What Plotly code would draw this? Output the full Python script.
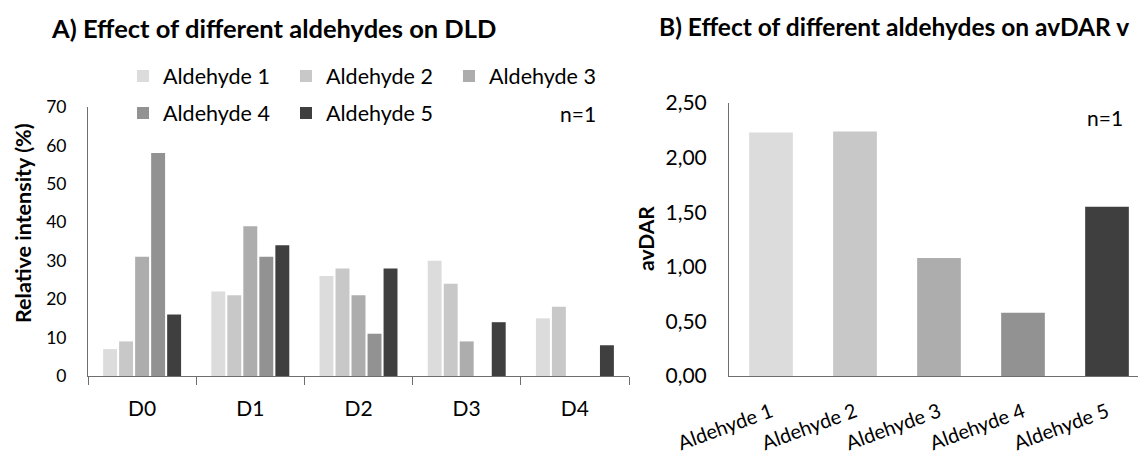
import plotly.graph_objects as go

# ---- data ----
dar_levels = ["D0", "D1", "D2", "D3", "D4"]
aldehydes = ["Aldehyde 1", "Aldehyde 2", "Aldehyde 3", "Aldehyde 4", "Aldehyde 5"]
aldehyde_1 = [7, 22, 26, 30, 15]
aldehyde_2 = [9, 21, 28, 24, 18]
aldehyde_3 = [31, 39, 21, 9, 0]
aldehyde_4 = [58, 31, 11, 0, 0]
aldehyde_5 = [16, 34, 28, 14, 8]
avdar = [2.23, 2.24, 1.08, 0.58, 1.55]
left_ticks = [0, 10, 20, 30, 40, 50, 60, 70]
right_ticks = [0, 0.5, 1.0, 1.5, 2.0, 2.5]
right_tick_text = ["0,00", "0,50", "1,00", "1,50", "2,00", "2,50"]

colors = ["#dcdcdc", "#c8c8c8", "#adadad", "#929292", "#3f3f3f"]
FONT = "Lato"
W, H = 1138, 457

fig = go.Figure()
series = [aldehyde_1, aldehyde_2, aldehyde_3, aldehyde_4, aldehyde_5]
for i, (name, vals) in enumerate(zip(aldehydes, series)):
    fig.add_trace(go.Bar(
        x=dar_levels, y=vals, name=name,
        marker=dict(color=colors[i], line=dict(width=0)),
        xaxis="x", yaxis="y",
        legend="legend" if i < 3 else "legend2",
    ))

fig.add_trace(go.Bar(
    x=aldehydes, y=avdar, width=0.52,
    marker=dict(color=colors, line=dict(width=0)),
    xaxis="x2", yaxis="y2", showlegend=False,
))

axis_col = "#6e6e6e"
fig.update_layout(
    width=W, height=H,
    margin=dict(l=0, r=0, t=0, b=0, autoexpand=False),
    paper_bgcolor="white", plot_bgcolor="white",
    barmode="group", bargap=0.26, bargroupgap=0.13,
    font=dict(family=FONT, color="#000000"),
    xaxis=dict(
        domain=[88 / W, 629 / W], anchor="y", automargin=False,
        showline=True, linecolor=axis_col, linewidth=1,
        ticks="outside", tickson="boundaries", ticklen=8, tickcolor=axis_col,
        tickfont=dict(size=21, family=FONT), ticklabelstandoff=14,
        showgrid=False, zeroline=False,
    ),
    yaxis=dict(
        domain=[(H - 376) / H, (H - 107) / H], anchor="x", automargin=False,
        range=[0, 70], tickvals=left_ticks,
        showline=True, linecolor=axis_col, linewidth=1,
        ticks="", tickfont=dict(size=17.5, family=FONT), ticklabelstandoff=17,
        showgrid=False, zeroline=False,
    ),
    xaxis2=dict(
        domain=[729 / W, 1.0], anchor="y2", automargin=False,
        range=[-0.5, -0.5 + 409 / 84],
        showline=True, linecolor=axis_col, linewidth=1,
        ticks="", tickangle=-20, ticklabelstandoff=16,
        tickfont=dict(size=20, family=FONT),
        showgrid=False, zeroline=False,
    ),
    yaxis2=dict(
        domain=[(H - 376) / H, (H - 103) / H], anchor="x2", automargin=False,
        range=[0, 2.5], tickvals=right_ticks, ticktext=right_tick_text,
        showline=True, linecolor=axis_col, linewidth=1,
        ticks="", tickfont=dict(size=21, family=FONT), ticklabelstandoff=17,
        showgrid=False, zeroline=False,
    ),
    legend=dict(
        orientation="h", x=123 / W, y=1 - 76 / H, xanchor="left", yanchor="middle",
        font=dict(size=21.5, family=FONT), entrywidth=118, entrywidthmode="pixels",
        bgcolor="rgba(0,0,0,0)", traceorder="normal",
    ),
    legend2=dict(
        orientation="h", x=123 / W, y=1 - 113 / H, xanchor="left", yanchor="middle",
        font=dict(size=21.5, family=FONT), entrywidth=118, entrywidthmode="pixels",
        bgcolor="rgba(0,0,0,0)", traceorder="normal",
    ),
    annotations=[
        dict(text="<b>A) Effect of different aldehydes on DLD</b>", x=49 / W, y=1 - 28 / H,
             xref="paper", yref="paper", xanchor="left", yanchor="middle",
             showarrow=False, font=dict(size=25.5, family=FONT)),
        dict(text="<b>B) Effect of different aldehydes on avDAR v</b>", x=657 / W, y=1 - 26 / H,
             xref="paper", yref="paper", xanchor="left", yanchor="middle",
             showarrow=False, font=dict(size=24.5, family=FONT)),
        dict(text="<b>Relative intensity (%)</b>", x=23 / W, y=1 - 223 / H, textangle=-90,
             xref="paper", yref="paper", xanchor="center", yanchor="middle",
             showarrow=False, font=dict(size=21.5, family=FONT)),
        dict(text="<b>avDAR</b>", x=645 / W, y=1 - 239 / H, textangle=-90,
             xref="paper", yref="paper", xanchor="center", yanchor="middle",
             showarrow=False, font=dict(size=21, family=FONT)),
        dict(text="n=1", x=578 / W, y=1 - 113 / H, xref="paper", yref="paper",
             xanchor="center", yanchor="middle", showarrow=False, font=dict(size=21, family=FONT)),
        dict(text="n=1", x=1105 / W, y=1 - 117 / H, xref="paper", yref="paper",
             xanchor="center", yanchor="middle", showarrow=False, font=dict(size=21, family=FONT)),
    ],
)

fig.write_html("out.html", post_script="document.body.style.margin='0';",
               config={"displayModeBar": False})
